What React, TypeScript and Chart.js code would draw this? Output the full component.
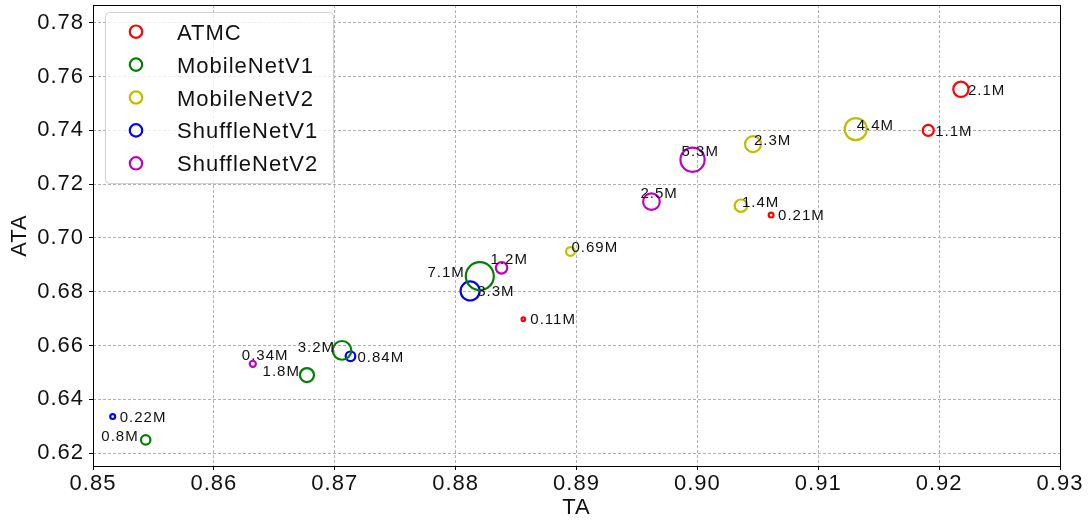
import React, { useEffect, useRef } from "react";
import { Chart, registerables } from "chart.js";

Chart.register(...registerables);

// ---- data ----
const seriesNames = ["ATMC", "MobileNetV1", "MobileNetV2", "ShuffleNetV1", "ShuffleNetV2"];

const atmcTA = [0.9218, 0.9191, 0.9061, 0.8856];
const atmcATA = [0.7553, 0.7400, 0.7085, 0.6698];
const atmcParams = [2.1, 1.1, 0.21, 0.11];

const mbv1TA = [0.8820, 0.8706, 0.8677, 0.85436];
const mbv1ATA = [0.6858, 0.6582, 0.6490, 0.6249];
const mbv1Params = [7.1, 3.2, 1.8, 0.8];

const mbv2TA = [0.9131, 0.9046, 0.9036, 0.8895];
const mbv2ATA = [0.7405, 0.7349, 0.7120, 0.6950];
const mbv2Params = [4.4, 2.3, 1.4, 0.69];

const snv1TA = [0.8812, 0.8713, 0.85163];
const snv1ATA = [0.6803, 0.6560, 0.6336];
const snv1Params = [3.3, 0.84, 0.22];

const snv2TA = [0.8996, 0.8962, 0.8838, 0.86322];
const snv2ATA = [0.7291, 0.7135, 0.6889, 0.6532];
const snv2Params = [5.3, 2.5, 1.2, 0.34];

const xTicks = [0.85, 0.86, 0.87, 0.88, 0.89, 0.90, 0.91, 0.92, 0.93];
const yTicks = [0.62, 0.64, 0.66, 0.68, 0.70, 0.72, 0.74, 0.76, 0.78];

// ---- styles ----
const colors = ["#ff0000", "#008000", "#bfbf00", "#0000ff", "#bf00bf"];
const labelStyles = [
  { dx: 7, dy: 0, align: "left" },
  { dx: -7, dy: -4, align: "right" },
  { dx: 1, dy: -4.5, align: "left" },
  { dx: 7, dy: 0, align: "left" },
  { dx: -11, dy: -9, align: "left" },
];
const labelDxOverride: Record<string, number> = { "1:0": -15 };
const FONT = "'Liberation Sans', Arial, Helvetica, sans-serif";

const seriesData = [
  [atmcTA, atmcATA, atmcParams],
  [mbv1TA, mbv1ATA, mbv1Params],
  [mbv2TA, mbv2ATA, mbv2Params],
  [snv1TA, snv1ATA, snv1Params],
  [snv2TA, snv2ATA, snv2Params],
];

const radiusOf = (p: number) => 5.25 * Math.sqrt(p);

export default function App() {
  const ref = useRef<HTMLCanvasElement | null>(null);

  useEffect(() => {
    document.body.style.margin = "0";
    const canvas = ref.current;
    if (!canvas) return;

    const datasets = seriesData.map(([xs, ys, ps], si) => ({
      label: seriesNames[si],
      data: xs.map((x, i) => ({ x, y: ys[i] })),
      params: ps,
      borderColor: colors[si],
      backgroundColor: "rgba(0,0,0,0)",
      borderWidth: 2.2,
      pointRadius: ps.map((p) => radiusOf(p)),
      pointHoverRadius: ps.map((p) => radiusOf(p)),
    }));

    const spacingPlugin = {
      id: "spacing",
      beforeLayout(chart: any) {
        chart.ctx.letterSpacing = "1px";
      },
      beforeDraw(chart: any) {
        chart.ctx.letterSpacing = "1px";
      },
    };

    const overlayPlugin = {
      id: "overlay",
      afterDatasetsDraw(chart: any) {
        const ctx = chart.ctx;
        ctx.save();
        ctx.letterSpacing = "1px";
        ctx.font = `15px ${FONT}`;
        ctx.fillStyle = "#111111";
        ctx.textBaseline = "alphabetic";
        chart.data.datasets.forEach((ds: any, si: number) => {
          const meta = chart.getDatasetMeta(si);
          const st = labelStyles[si];
          meta.data.forEach((pt: any, i: number) => {
            const key = `${si}:${i}`;
            const dx = labelDxOverride[key] !== undefined ? labelDxOverride[key] : st.dx;
            ctx.textAlign = st.align;
            ctx.fillText(`${ds.params[i]}M`, pt.x + dx, pt.y + st.dy + 5.3);
          });
        });
        ctx.restore();
      },
      afterDraw(chart: any) {
        const ctx = chart.ctx;
        const a = chart.chartArea;
        ctx.save();
        // frame
        ctx.strokeStyle = "#000000";
        ctx.lineWidth = 1;
        ctx.setLineDash([]);
        ctx.strokeRect(Math.round(a.left) + 0.5, Math.round(a.top) + 0.5, Math.round(a.right - a.left), Math.round(a.bottom - a.top));
        // legend
        const lx = 105.5, ly = 12.5, lw = 228, lh = 171, r = 4;
        ctx.beginPath();
        ctx.moveTo(lx + r, ly);
        ctx.lineTo(lx + lw - r, ly);
        ctx.arcTo(lx + lw, ly, lx + lw, ly + r, r);
        ctx.lineTo(lx + lw, ly + lh - r);
        ctx.arcTo(lx + lw, ly + lh, lx + lw - r, ly + lh, r);
        ctx.lineTo(lx + r, ly + lh);
        ctx.arcTo(lx, ly + lh, lx, ly + lh - r, r);
        ctx.lineTo(lx, ly + r);
        ctx.arcTo(lx, ly, lx + r, ly, r);
        ctx.closePath();
        ctx.fillStyle = "rgba(255,255,255,0.8)";
        ctx.fill();
        ctx.strokeStyle = "#d0d0d0";
        ctx.stroke();
        ctx.font = `22px ${FONT}`;
        ctx.letterSpacing = "1px";
        ctx.textAlign = "left";
        ctx.textBaseline = "alphabetic";
        seriesNames.forEach((name, i) => {
          const cy = 31.7 + i * 32.9;
          ctx.beginPath();
          ctx.arc(136, cy, 6.2, 0, Math.PI * 2);
          ctx.strokeStyle = colors[i];
          ctx.lineWidth = 2.2;
          ctx.stroke();
          ctx.fillStyle = "#111111";
          ctx.fillText(name, 177, cy + 8);
        });
        ctx.restore();
      },
    };

    const chart = new Chart(canvas, {
      type: "scatter",
      data: { datasets: datasets as any },
      options: {
        animation: false,
        responsive: false,
        devicePixelRatio: 1,
        layout: { autoPadding: false, padding: { top: 1, right: 28, left: 0, bottom: 0 } },
        plugins: { legend: { display: false }, tooltip: { enabled: false } },
        scales: {
          x: {
            type: "linear",
            min: xTicks[0],
            max: xTicks[xTicks.length - 1],
            afterFit: (s: any) => { s.height = 55; },
            afterBuildTicks: (s: any) => { s.ticks = xTicks.map((v) => ({ value: v })); },
            ticks: {
              autoSkip: false,
              maxRotation: 0,
              padding: 1,
              color: "#111111",
              font: { family: FONT, size: 22 },
              callback: (v: any) => Number(v).toFixed(2),
            },
            grid: { color: "#b0b0b0", lineWidth: 1, tickLength: 4, tickColor: "#000000", tickWidth: 1 },
            border: { display: false, dash: [3, 2] },
            title: { display: true, text: "TA", color: "#111111", font: { family: FONT, size: 22 }, padding: 0 },
          },
          y: {
            type: "linear",
            min: 0.6152,
            max: 0.7866,
            afterFit: (s: any) => { s.width = 93; },
            afterBuildTicks: (s: any) => { s.ticks = yTicks.map((v) => ({ value: v })); },
            ticks: {
              autoSkip: false,
              padding: 5,
              color: "#111111",
              font: { family: FONT, size: 22, lineHeight: 0.01 },
              callback: (v: any) => Number(v).toFixed(2),
            },
            grid: { color: "#b0b0b0", lineWidth: 1, tickLength: 4, tickColor: "#000000", tickWidth: 1 },
            border: { display: false, dash: [3, 2] },
            title: { display: true, text: "ATA", color: "#111111", font: { family: FONT, size: 22 }, padding: { top: 7, bottom: 0 } },
          },
        },
      },
      plugins: [spacingPlugin, overlayPlugin],
    } as any);

    return () => chart.destroy();
  }, []);

  return (
    <div style={{ width: 1088, height: 521 }}>
      <canvas ref={ref} width={1088} height={521} style={{ width: 1088, height: 521, display: "block" }} />
    </div>
  );
}
